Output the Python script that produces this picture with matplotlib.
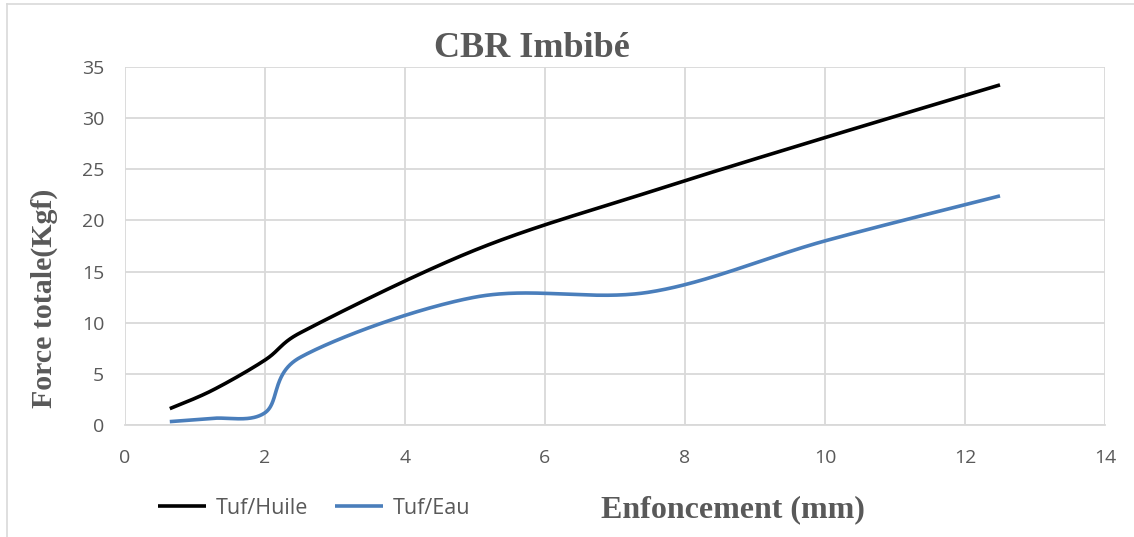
import numpy as np
import matplotlib
matplotlib.use("Agg")
import matplotlib.pyplot as plt
from matplotlib.lines import Line2D

# ---- data ----
penetration = [0.64, 1.25, 2.0, 2.5, 5.0, 7.5, 10.0, 12.5]
tuf_huile = [1.6, 3.4, 6.35, 9.0, 17.1, 22.8, 28.1, 33.25]
tuf_eau = [0.33, 0.65, 1.2, 6.6, 12.5, 13.0, 18.0, 22.4]
series_labels = ["Tuf/Huile", "Tuf/Eau"]
x_ticks = [0, 2, 4, 6, 8, 10, 12, 14]
y_ticks = [0, 5, 10, 15, 20, 25, 30, 35]
title = "CBR Imbibé"
x_label = "Enfoncement (mm)"
y_label = "Force totale(Kgf)"


def excel_smooth(ax, xs, ys, n=80):
    """Excel-like smoothed line in display space: cubic Bezier, control arms = 1/6 of
    neighbour chord, capped at half the segment length; returned in data coords."""
    P = ax.transData.transform(np.column_stack([xs, ys]).astype(float))
    m = len(P)
    out = []
    for i in range(m - 1):
        p0 = P[i - 1] if i > 0 else P[i]
        p1 = P[i]
        p2 = P[i + 1]
        p3 = P[i + 2] if i + 2 < m else P[i + 1]
        half = np.linalg.norm(p2 - p1) / 2.0
        a1 = (p2 - p0) / 6.0
        a2 = (p3 - p1) / 6.0
        if np.linalg.norm(a1) > half:
            a1 = a1 * half / np.linalg.norm(a1)
        if np.linalg.norm(a2) > half:
            a2 = a2 * half / np.linalg.norm(a2)
        c1 = p1 + a1
        c2 = p2 - a2
        t = np.linspace(0, 1, n)[:, None]
        seg = ((1 - t) ** 3) * p1 + 3 * ((1 - t) ** 2) * t * c1 + 3 * (1 - t) * t ** 2 * c2 + t ** 3 * p2
        if i > 0:
            seg = seg[1:]
        out.append(seg)
    out = ax.transData.inverted().transform(np.vstack(out))
    return out[:, 0], out[:, 1]


W, H = 1134, 537
fig = plt.figure(figsize=(W / 100, H / 100), dpi=100)
ax = fig.add_axes([125 / W, 1 - 425 / H, 980 / W, 358 / H])

text_col = "#595959"
grid_col = "#d9d9d9"
tick_font = "Open Sans"

ax.set_xlim(0, 14)
ax.set_ylim(0, 35)

xh, yh = excel_smooth(ax, penetration, tuf_huile)
xe, ye = excel_smooth(ax, penetration, tuf_eau)
ax.plot(xh, yh, color="black", lw=2.6, solid_capstyle="butt", label=series_labels[0], zorder=3)
ax.plot(xe, ye, color="#4a7ebb", lw=2.6, solid_capstyle="butt", label=series_labels[1], zorder=3)

ax.set_xlim(0, 14)
ax.set_ylim(0, 35)
ax.set_xticks(x_ticks)
ax.set_yticks(y_ticks)
ax.grid(True, color=grid_col, lw=1.3, zorder=0)
ax.set_axisbelow(True)
for s in ax.spines.values():
    s.set_visible(False)
ax.spines["bottom"].set_visible(True)
ax.spines["bottom"].set_color(grid_col)
ax.spines["bottom"].set_linewidth(1.3)
ax.tick_params(axis="both", length=0, labelcolor=text_col, labelsize=14)
ax.tick_params(axis="x", pad=17)
ax.tick_params(axis="y", pad=15)
for lab in ax.get_xticklabels() + ax.get_yticklabels():
    lab.set_fontfamily(tick_font)

fig.text(531.7 / W, 1 - 57 / H, title, ha="center", va="baseline",
         fontfamily="Liberation Serif", fontweight="bold", fontsize=26, color=text_col)
fig.text(44 / W, 1 - 298 / H, y_label, ha="center", va="center", rotation=90,
         fontfamily="Liberation Serif", fontweight="bold", fontsize=21.5, color=text_col)
fig.text(733 / W, 1 - 517 / H, x_label, ha="center", va="baseline",
         fontfamily="Liberation Serif", fontweight="bold", fontsize=23, color=text_col)

handles, labels = ax.get_legend_handles_labels()
leg = fig.legend(handles, labels, loc="center left", bbox_to_anchor=(158 / W, 1 - 508 / H),
                 ncol=2, frameon=False, borderpad=0, borderaxespad=0, handlelength=2.23,
                 handletextpad=0.43, columnspacing=1.29, prop={"family": tick_font, "size": 15.5})
for t in leg.get_texts():
    t.set_color(text_col)

# chart-area border (visible top and left edges)
fig.add_artist(Line2D([7 / W, 7 / W], [0, 1 - 4 / H], transform=fig.transFigure, color=grid_col, lw=1.2))
fig.add_artist(Line2D([7 / W, 1], [1 - 4 / H, 1 - 4 / H], transform=fig.transFigure, color=grid_col, lw=1.2))

fig.savefig("out.png", dpi=100, facecolor="white")
